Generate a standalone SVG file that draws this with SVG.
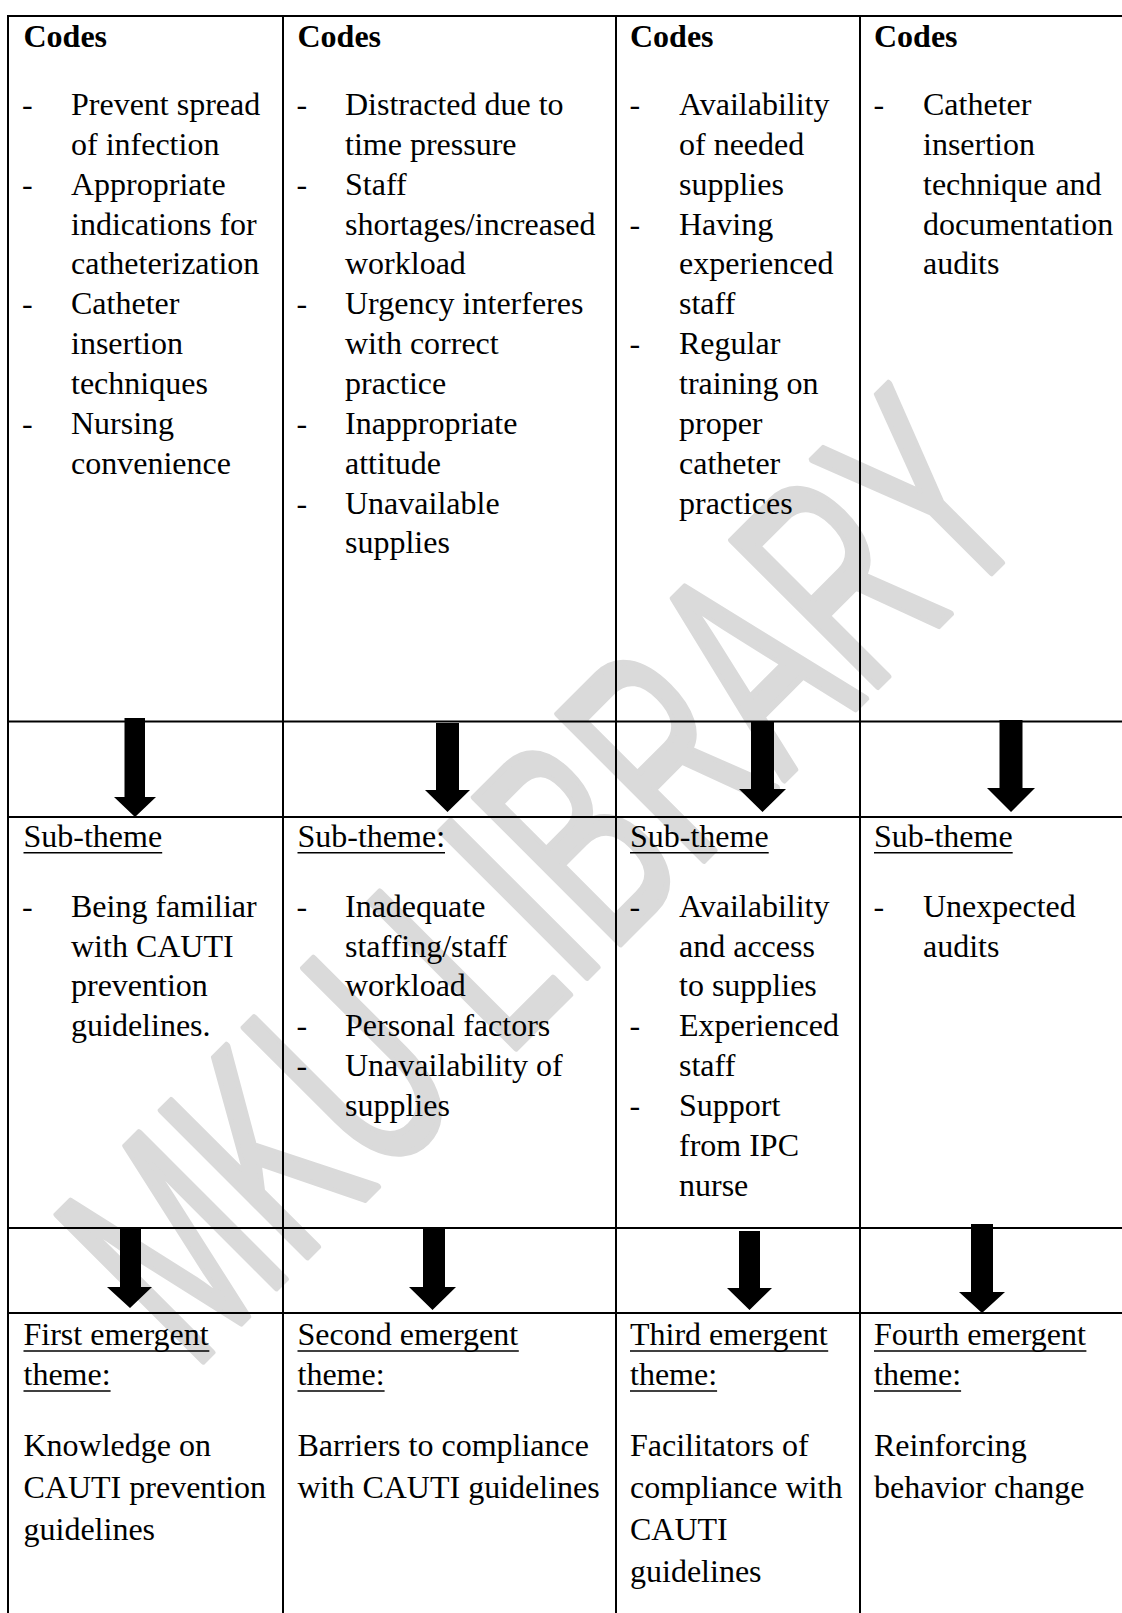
<svg xmlns="http://www.w3.org/2000/svg" width="1122" height="1613" viewBox="0 0 1122 1613">
<style>
.t{font-family:"Liberation Serif","Times New Roman",serif;font-size:32px;fill:#000}
.b{font-weight:bold}
.grid line{stroke:#000;stroke-width:2}
.ul{stroke:#000;stroke-width:1.6}
.arrow{fill:#000}
.wm{font-family:"Liberation Sans",Arial,sans-serif;font-size:300px;fill:#dadada;stroke:#dadada;stroke-width:7;stroke-linejoin:round}
</style>
<rect width="1122" height="1613" fill="#fff"/>
<g id="watermark">
<text class="wm" transform="translate(192,1372) rotate(-45) scale(0.59,1)">MKU LIBRARY</text>
</g>
<g id="grid" class="grid">
<line x1="7" y1="16" x2="1122" y2="16"/>
<line x1="7" y1="721.5" x2="1122" y2="721.5"/>
<line x1="7" y1="817" x2="1122" y2="817"/>
<line x1="7" y1="1228" x2="1122" y2="1228"/>
<line x1="7" y1="1313" x2="1122" y2="1313"/>
<line x1="8" y1="15" x2="8" y2="1613"/>
<line x1="283" y1="15" x2="283" y2="1613"/>
<line x1="616" y1="15" x2="616" y2="1613"/>
<line x1="860" y1="15" x2="860" y2="1613"/>
</g>
<g id="codes-1">
<text class="t b" x="23.5" y="46.5">Codes</text>
<text class="t"><tspan x="22" y="115">-</tspan><tspan x="22" y="194.7">-</tspan><tspan x="22" y="314.3">-</tspan><tspan x="22" y="433.8">-</tspan></text>
<text class="t"><tspan x="71" y="115">Prevent spread</tspan><tspan x="71" y="154.9">of infection</tspan><tspan x="71" y="194.7">Appropriate</tspan><tspan x="71" y="234.6">indications for</tspan><tspan x="71" y="274.4">catheterization</tspan><tspan x="71" y="314.3">Catheter</tspan><tspan x="71" y="354.1">insertion</tspan><tspan x="71" y="394">techniques</tspan><tspan x="71" y="433.8">Nursing</tspan><tspan x="71" y="473.7">convenience</tspan></text>
</g>
<g id="codes-2">
<text class="t b" x="297.5" y="46.5">Codes</text>
<text class="t"><tspan x="296.5" y="115">-</tspan><tspan x="296.5" y="194.7">-</tspan><tspan x="296.5" y="314.3">-</tspan><tspan x="296.5" y="433.8">-</tspan><tspan x="296.5" y="513.5">-</tspan></text>
<text class="t"><tspan x="345" y="115">Distracted due to</tspan><tspan x="345" y="154.9">time pressure</tspan><tspan x="345" y="194.7">Staff</tspan><tspan x="345" y="234.6">shortages/increased</tspan><tspan x="345" y="274.4">workload</tspan><tspan x="345" y="314.3">Urgency interferes</tspan><tspan x="345" y="354.1">with correct</tspan><tspan x="345" y="394">practice</tspan><tspan x="345" y="433.8">Inappropriate</tspan><tspan x="345" y="473.7">attitude</tspan><tspan x="345" y="513.5">Unavailable</tspan><tspan x="345" y="553.4">supplies</tspan></text>
</g>
<g id="codes-3">
<text class="t b" x="630" y="46.5">Codes</text>
<text class="t"><tspan x="629.5" y="115">-</tspan><tspan x="629.5" y="234.6">-</tspan><tspan x="629.5" y="354.1">-</tspan></text>
<text class="t"><tspan x="679" y="115">Availability</tspan><tspan x="679" y="154.9">of needed</tspan><tspan x="679" y="194.7">supplies</tspan><tspan x="679" y="234.6">Having</tspan><tspan x="679" y="274.4">experienced</tspan><tspan x="679" y="314.3">staff</tspan><tspan x="679" y="354.1">Regular</tspan><tspan x="679" y="394">training on</tspan><tspan x="679" y="433.8">proper</tspan><tspan x="679" y="473.7">catheter</tspan><tspan x="679" y="513.5">practices</tspan></text>
</g>
<g id="codes-4">
<text class="t b" x="874" y="46.5">Codes</text>
<text class="t"><tspan x="873.5" y="115">-</tspan></text>
<text class="t"><tspan x="923" y="115">Catheter</tspan><tspan x="923" y="154.9">insertion</tspan><tspan x="923" y="194.7">technique and</tspan><tspan x="923" y="234.6">documentation</tspan><tspan x="923" y="274.4">audits</tspan></text>
</g>
<g id="subtheme-1">
<text class="t" x="23.5" y="846.7">Sub-theme</text>
<line class="ul" x1="23.5" y1="852.7" x2="162.2" y2="852.7"/>
<text class="t"><tspan x="22" y="916.7">-</tspan></text>
<text class="t"><tspan x="71" y="916.7">Being familiar</tspan><tspan x="71" y="956.6">with CAUTI</tspan><tspan x="71" y="996.4">prevention</tspan><tspan x="71" y="1036.3">guidelines.</tspan></text>
</g>
<g id="subtheme-2">
<text class="t" x="297.5" y="846.7">Sub-theme:</text>
<line class="ul" x1="297.5" y1="852.7" x2="445" y2="852.7"/>
<text class="t"><tspan x="296.5" y="916.7">-</tspan><tspan x="296.5" y="1036.3">-</tspan><tspan x="296.5" y="1076.1">-</tspan></text>
<text class="t"><tspan x="345" y="916.7">Inadequate</tspan><tspan x="345" y="956.6">staffing/staff</tspan><tspan x="345" y="996.4">workload</tspan><tspan x="345" y="1036.3">Personal factors</tspan><tspan x="345" y="1076.1">Unavailability of</tspan><tspan x="345" y="1116">supplies</tspan></text>
</g>
<g id="subtheme-3">
<text class="t" x="630" y="846.7">Sub-theme</text>
<line class="ul" x1="630" y1="852.7" x2="768.7" y2="852.7"/>
<text class="t"><tspan x="629.5" y="916.7">-</tspan><tspan x="629.5" y="1036.3">-</tspan><tspan x="629.5" y="1116">-</tspan></text>
<text class="t"><tspan x="679" y="916.7">Availability</tspan><tspan x="679" y="956.6">and access</tspan><tspan x="679" y="996.4">to supplies</tspan><tspan x="679" y="1036.3">Experienced</tspan><tspan x="679" y="1076.1">staff</tspan><tspan x="679" y="1116">Support</tspan><tspan x="679" y="1155.8">from IPC</tspan><tspan x="679" y="1195.7">nurse</tspan></text>
</g>
<g id="subtheme-4">
<text class="t" x="874" y="846.7">Sub-theme</text>
<line class="ul" x1="874" y1="852.7" x2="1012.7" y2="852.7"/>
<text class="t"><tspan x="873.5" y="916.7">-</tspan></text>
<text class="t"><tspan x="923" y="916.7">Unexpected</tspan><tspan x="923" y="956.6">audits</tspan></text>
</g>
<g id="theme-1">
<text class="t"><tspan x="23.5" y="1345">First emergent</tspan><tspan x="23.5" y="1385">theme:</tspan></text>
<line class="ul" x1="23.5" y1="1351" x2="209.3" y2="1351"/>
<line class="ul" x1="23.5" y1="1391" x2="110.6" y2="1391"/>
<text class="t"><tspan x="23.5" y="1455.5">Knowledge on</tspan><tspan x="23.5" y="1497.5">CAUTI prevention</tspan><tspan x="23.5" y="1539.5">guidelines</tspan></text>
</g>
<g id="theme-2">
<text class="t"><tspan x="297.5" y="1345">Second emergent</tspan><tspan x="297.5" y="1385">theme:</tspan></text>
<line class="ul" x1="297.5" y1="1351" x2="518.8" y2="1351"/>
<line class="ul" x1="297.5" y1="1391" x2="384.6" y2="1391"/>
<text class="t"><tspan x="297.5" y="1455.5">Barriers to compliance</tspan><tspan x="297.5" y="1497.5">with CAUTI guidelines</tspan></text>
</g>
<g id="theme-3">
<text class="t"><tspan x="630" y="1345">Third emergent</tspan><tspan x="630" y="1385">theme:</tspan></text>
<line class="ul" x1="630" y1="1351" x2="828.2" y2="1351"/>
<line class="ul" x1="630" y1="1391" x2="717.1" y2="1391"/>
<text class="t"><tspan x="630" y="1455.5">Facilitators of</tspan><tspan x="630" y="1497.5">compliance with</tspan><tspan x="630" y="1539.5">CAUTI</tspan><tspan x="630" y="1581.5">guidelines</tspan></text>
</g>
<g id="theme-4">
<text class="t"><tspan x="874" y="1345">Fourth emergent</tspan><tspan x="874" y="1385">theme:</tspan></text>
<line class="ul" x1="874" y1="1351" x2="1086.4" y2="1351"/>
<line class="ul" x1="874" y1="1391" x2="961.1" y2="1391"/>
<text class="t"><tspan x="874" y="1455.5">Reinforcing</tspan><tspan x="874" y="1497.5">behavior change</tspan></text>
</g>
<g id="connectors">
<polygon class="arrow" points="124.5,718 145,718 145,797 156,797 135,817 114,797 124.5,797"/>
<polygon class="arrow" points="436,723 459,723 459,790 470,790 447.5,812 425,790 436,790"/>
<polygon class="arrow" points="751,721 774,721 774,789 786,789 762.5,812 739,789 751,789"/>
<polygon class="arrow" points="999.5,720 1022.5,720 1022.5,788 1035,788 1011,812 987,788 999.5,788"/>
<polygon class="arrow" points="120,1227 141,1227 141,1287 152,1287 130,1308 107,1287 120,1287"/>
<polygon class="arrow" points="423,1227 445,1227 445,1287 456,1287 432.5,1310 409,1287 423,1287"/>
<polygon class="arrow" points="739,1231 760,1231 760,1288 772,1288 749.5,1310 727,1288 739,1288"/>
<polygon class="arrow" points="971,1224 993,1224 993,1292 1005,1292 982,1313 959,1292 971,1292"/>
</g>
</svg>
